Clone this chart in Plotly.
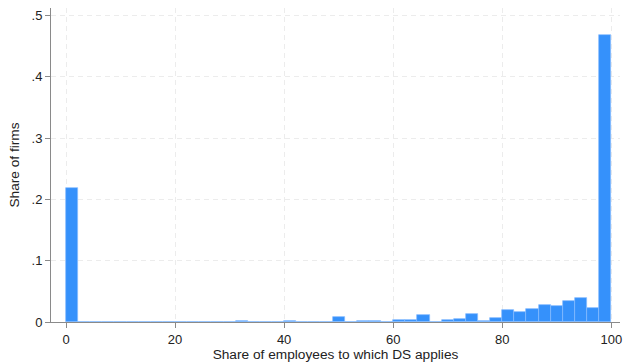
import plotly.graph_objects as go

# Histogram of coverage: 45 equal-width bins over 0-100
bin_count = 45
bin_lo, bin_hi = 0.0, 100.0
share_of_firms = [
    0.218, 0.0005, 0, 0, 0, 0, 0, 0, 0, 0.0008,
    0.0008, 0, 0, 0, 0.0015, 0, 0, 0, 0.0012, 0.0003,
    0, 0, 0.0085, 0.0004, 0.001, 0.002, 0, 0.0038, 0.0027, 0.012,
    0.0005, 0.003, 0.0055, 0.013, 0.002, 0.006, 0.0195, 0.0165, 0.022, 0.028,
    0.026, 0.035, 0.0385, 0.0225, 0.468,
]
x_ticks = [0, 20, 40, 60, 80, 100]
y_ticks = [0, 0.1, 0.2, 0.3, 0.4, 0.5]
y_tick_text = ["0", ".1", ".2", ".3", ".4", ".5"]

bw = (bin_hi - bin_lo) / bin_count
centers = [bin_lo + bw * (i + 0.5) for i in range(bin_count)]

fig = go.Figure(
    go.Bar(
        x=centers,
        y=share_of_firms,
        width=bw,
        marker=dict(color="#3591fb", line=dict(color="#86bcff", width=0.7)),
        hoverinfo="x+y",
    )
)

font = "Liberation Sans, Arial, Helvetica, sans-serif"
grid = dict(showgrid=True, gridcolor="#ececec", griddash="5px,4px", gridwidth=1)

fig.update_layout(
    width=625,
    height=362,
    margin=dict(l=51, r=3, t=8, b=39),
    paper_bgcolor="white",
    plot_bgcolor="white",
    bargap=0,
    showlegend=False,
    font=dict(family=font, size=13, color="#222222"),
    xaxis=dict(
        range=[-2.75, 101.6],
        tickvals=x_ticks,
        ticks="outside",
        ticklen=5,
        tickcolor="#8a8a8a",
        showline=True,
        linecolor="#8a8a8a",
        linewidth=1,
        zeroline=False,
        title=dict(text="Share of employees to which DS applies", font=dict(size=13.7), standoff=3),
        tickfont=dict(size=13),
        **grid,
    ),
    yaxis=dict(
        range=[0, 0.5125],
        tickvals=y_ticks,
        ticktext=y_tick_text,
        ticks="outside",
        ticklen=5,
        tickcolor="#8a8a8a",
        showline=True,
        linecolor="#8a8a8a",
        linewidth=1,
        zeroline=False,
        title=dict(text="Share of firms", font=dict(size=13.7), standoff=8),
        tickfont=dict(size=13),
        **grid,
    ),
)

fig.write_html("out.html")
